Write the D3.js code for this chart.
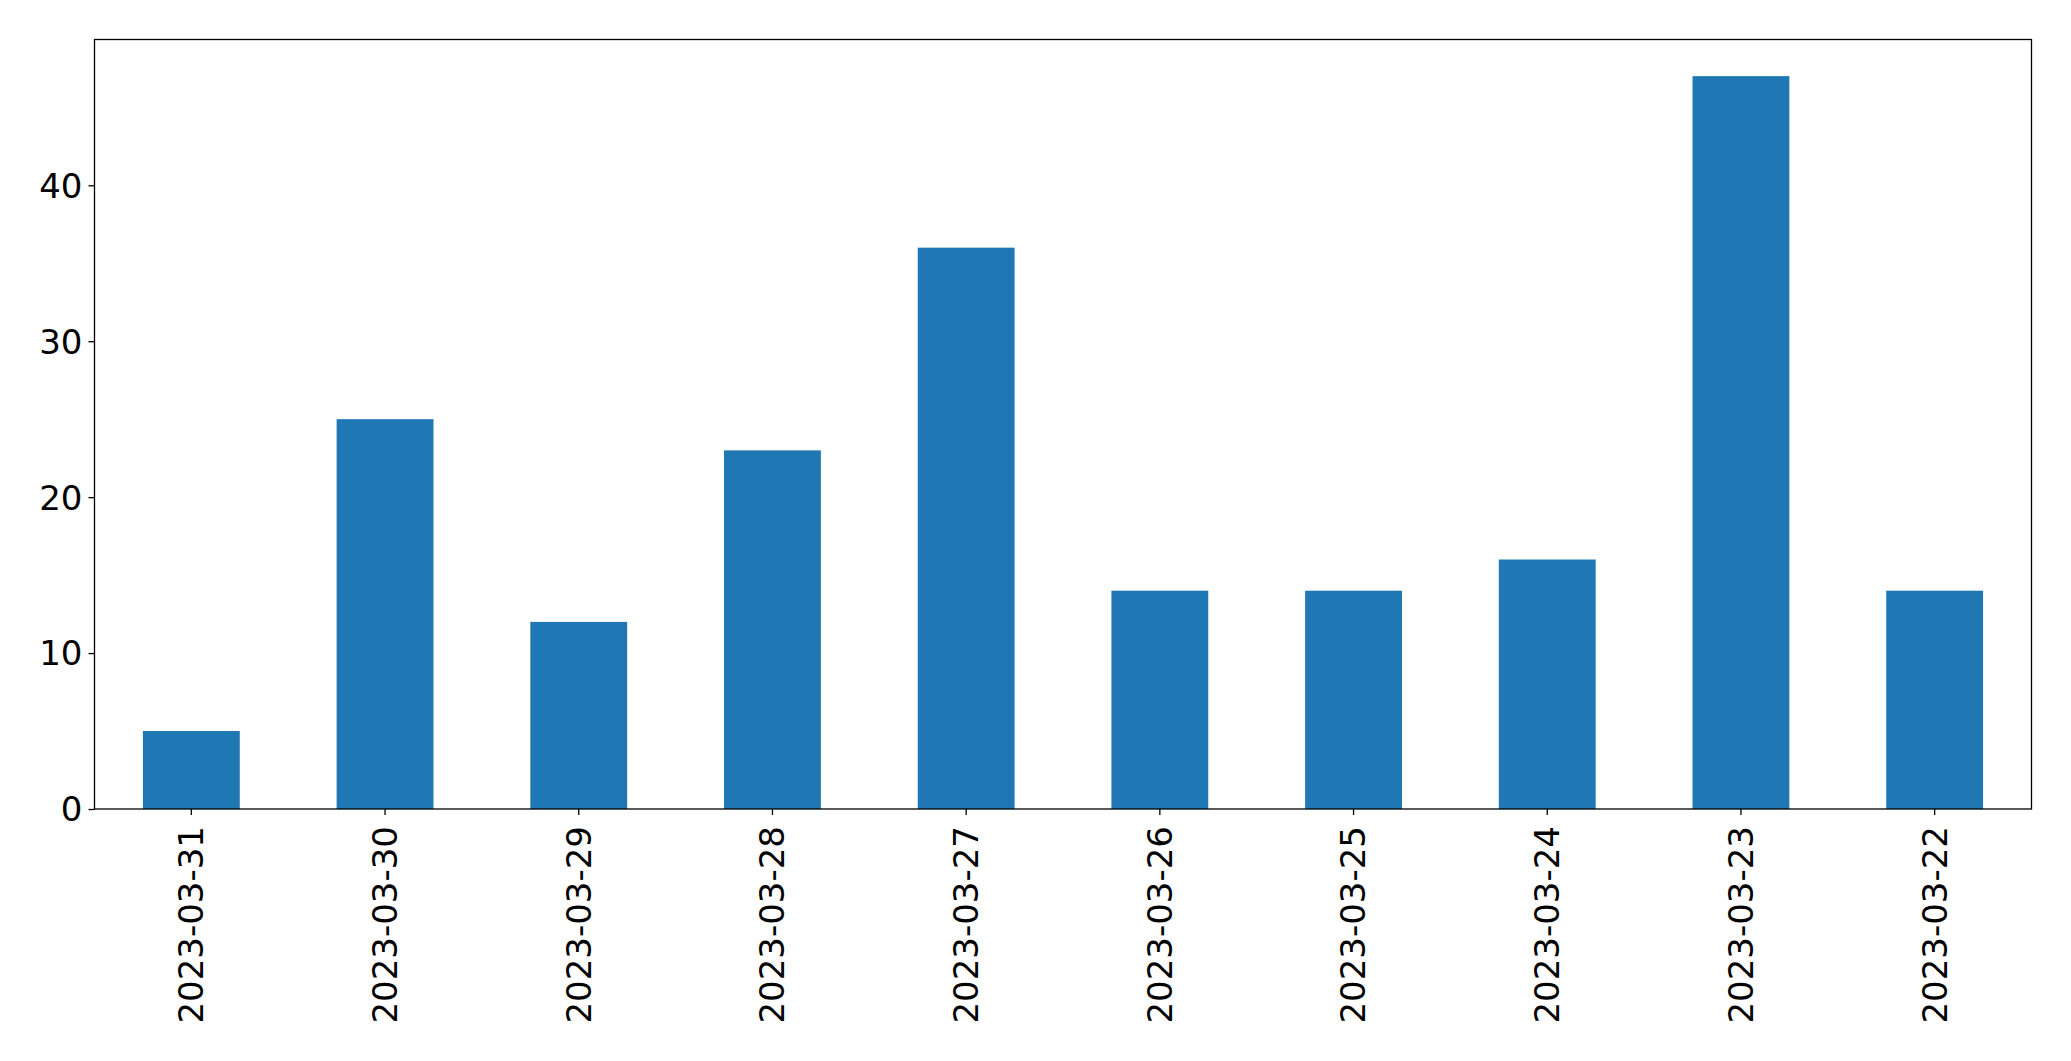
<!DOCTYPE html>
<meta charset="utf-8">
<style>
body,html{ margin:0; padding:0; background:#fff; }
svg{ display:block; }
.tick text{ font-family:"DejaVu Sans"; font-size:34px; fill:#000; }
.tick line{ stroke:#000; stroke-width:1.3px; }
</style>
<svg width="2071" height="1061"></svg>
<script src="https://d3js.org/d3.v7.min.js"></script>
<script>
var dates = ["2023-03-31","2023-03-30","2023-03-29","2023-03-28","2023-03-27",
             "2023-03-26","2023-03-25","2023-03-24","2023-03-23","2023-03-22"];
var counts = [5, 25, 12, 23, 36, 14, 14, 16, 47, 14];
var yTicks = [0, 10, 20, 30, 40];

var svg = d3.select("svg"),
    plotLeft = 94.5, plotRight = 2031.5, plotTop = 39.5, plotBottom = 809;

var x = d3.scaleBand().domain(dates).range([plotLeft, plotRight])
    .paddingInner(0.5).paddingOuter(0.25);
var y = d3.scaleLinear().domain([0, d3.max(counts) * 1.05]).range([plotBottom, plotTop]);

svg.append("g")
  .selectAll("rect")
  .data(dates)
  .enter().append("rect")
    .attr("x", function(d) { return x(d); })
    .attr("width", x.bandwidth())
    .attr("y", function(d, i) { return y(counts[i]); })
    .attr("height", function(d, i) { return plotBottom - y(counts[i]); })
    .attr("fill", "#1f77b4");

var yAxis = svg.append("g")
    .attr("transform", "translate(" + plotLeft + ",0)")
    .call(d3.axisLeft(y).tickValues(yTicks).tickSize(6).tickPadding(6));
yAxis.select(".domain").remove();
yAxis.selectAll(".tick text").attr("dy", "0.35em");

var xAxis = svg.append("g")
    .attr("transform", "translate(0," + plotBottom + ")")
    .call(d3.axisBottom(x).tickSize(6).tickPadding(6));
xAxis.select(".domain").remove();
xAxis.selectAll(".tick text")
    .attr("transform", "rotate(-90)")
    .attr("x", -17)
    .attr("y", 0)
    .attr("dy", "0.35em")
    .style("text-anchor", "end");

svg.append("rect")
    .attr("x", plotLeft).attr("y", plotTop)
    .attr("width", plotRight - plotLeft).attr("height", plotBottom - plotTop)
    .attr("fill", "none").attr("stroke", "#000").attr("stroke-width", 1.3);
</script>
